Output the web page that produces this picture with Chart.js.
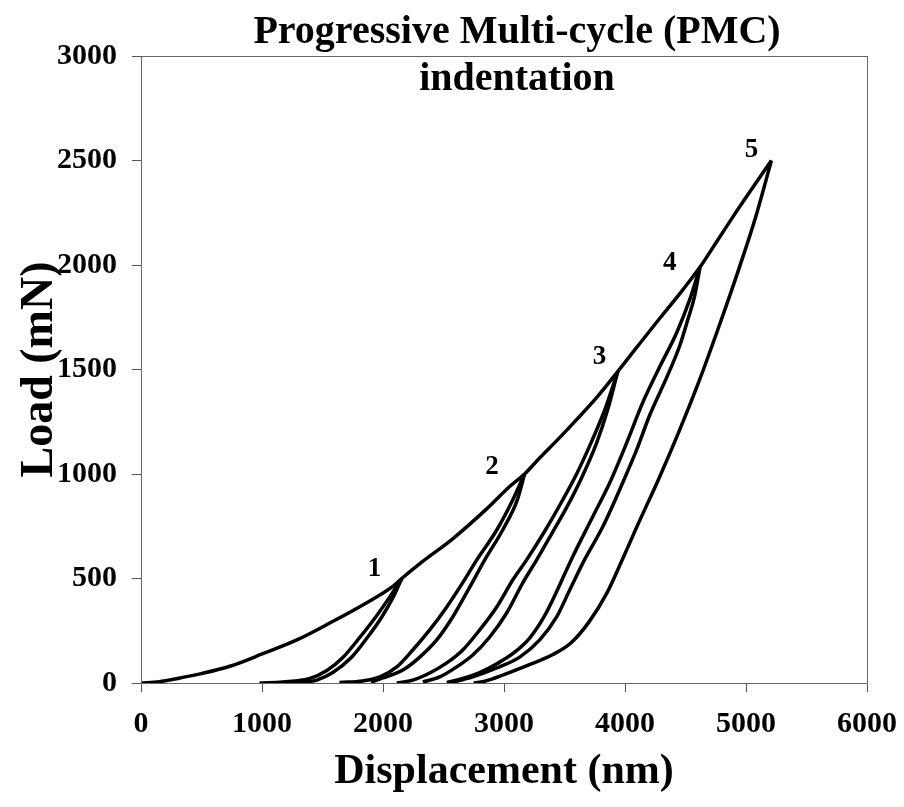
<!DOCTYPE html>
<html>
<head>
<meta charset="utf-8">
<title>Progressive Multi-cycle (PMC) indentation</title>
<script src="https://cdn.jsdelivr.net/npm/chart.js@4.4.0/dist/chart.umd.min.js"></script>
<style>
    html, body { margin: 0; padding: 0; background: #fff; }
    #wrap { width: 904px; height: 807px; }
</style>
</head>
<body>
<div id="wrap"><canvas id="pmcChart" width="904" height="807"></canvas></div>
<script>
// curve values: [displacement nm, load mN]
const loading = [[0,0],[150,6],[322,24],[500,45],[735,80],[1007,140],[1288,206],[1561,287],[1833,373],[2081,462],[2155,500],
    [2320,578],[2576,690],[2857,833],[3047,940],[3170,1000],[3300,1080],[3450,1168],[3600,1260],[3765,1365],[3940,1490],
    [4100,1608],[4286,1744],[4476,1880],[4620,1990],[4756,2110],[4889,2228],[5029,2348],[5210,2500]];

const reload1 = [[980,0],[1173,5],[1396,22],[1536,60],[1668,122],[1808,218],[1940,316],[2056,412],[2155,500]];
const unload1 = [[1250,0],[1330,3],[1453,14],[1585,50],[1742,124],[1874,220],[1990,316],[2085,412],[2155,500]];

const reload2 = [[1640,3],[1833,10],[1974,29],[2114,77],[2246,158],[2386,254],[2527,364],[2659,480],[2775,589],[2940,732],[3072,876],[3170,1000]];
const unload2 = [[1900,4],[1998,24],[2164,62],[2304,124],[2444,206],[2576,316],[2717,459],[2841,589],[2989,732],[3110,876],[3170,1000]];

const reload3 = [[2114,0],[2246,14],[2386,48],[2527,96],[2659,158],[2799,254],[2940,364],[3072,493],[3187,589],[3330,720],[3470,860],[3600,1000],[3720,1150],[3835,1310],[3940,1490]];
const unload3 = [[2329,5],[2469,29],[2609,77],[2742,134],[2882,220],[3022,335],[3154,478],[3270,589],[3400,720],[3518,840],[3640,980],[3765,1148],[3856,1306],[3940,1490]];

const reload4 = [[2527,3],[2659,22],[2799,50],[2940,92],[3072,140],[3212,215],[3330,316],[3445,450],[3555,589],[3732,794],[3873,957],[4013,1148],[4145,1340],[4286,1512],[4426,1675],[4534,1833],[4620,1990]];
const unload4 = [[2552,0],[2742,29],[2940,72],[3130,124],[3295,206],[3435,316],[3543,445],[3665,589],[3815,746],[3980,957],[4096,1115],[4203,1280],[4343,1460],[4450,1610],[4520,1740],[4575,1850],[4620,1990]];

const unload5 = [[2750,0],[2850,10],[3000,40],[3200,85],[3400,135],[3550,190],[3700,290],[3850,430],[3970,580],[4100,750],[4286,986],[4451,1210],[4616,1450],[4785,1720],[4946,1990],[5080,2230],[5210,2500]];

// cycle numbers next to each peak
const peakLabels = ['1', '2', '3', '4', '5'];
const peakLabelX = [1930, 2900, 3790, 4370, 5045];
const peakLabelY = [545, 1035, 1560, 2010, 2550];

const xTicks = [0, 1000, 2000, 3000, 4000, 5000, 6000];
const yTicks = [0, 500, 1000, 1500, 2000, 2500, 3000];

const serif = '"Liberation Serif", "Times New Roman", serif';

function curve(name, pts) {
    return {
        label: name,
        data: pts.map(p => ({ x: p[0], y: p[1] })),
        showLine: true,
        borderColor: '#000',
        borderWidth: 3.5,
        pointRadius: 0,
        cubicInterpolationMode: 'monotone',
        fill: false
    };
}

// titulo, marco y numeros de ciclo
const decor = {
    id: 'decor',
    afterDraw(chart) {
        const ctx = chart.ctx;
        const a = chart.chartArea;
        const sx = chart.scales.x, sy = chart.scales.y;
        ctx.save();
        ctx.strokeStyle = '#666';
        ctx.lineWidth = 1;
        ctx.strokeRect(a.left + 0.5, a.top + 0.5, a.right - a.left, a.bottom - a.top);

        ctx.fillStyle = '#000';
        ctx.textAlign = 'center';
        ctx.textBaseline = 'middle';
        ctx.font = 'bold 40px ' + serif;
        ctx.fillText('Progressive Multi-cycle (PMC)', 517, 33);
        ctx.fillText('indentation', 517, 80);

        ctx.font = 'bold 27px ' + serif;
        peakLabels.forEach((t, i) => {
            ctx.fillText(t, sx.getPixelForValue(peakLabelX[i]), sy.getPixelForValue(peakLabelY[i]));
        });
        ctx.restore();
    }
};

const plainNumber = v => String(v);

const ctx = document.getElementById('pmcChart').getContext('2d');
const pmcChart = new Chart(ctx, {
    type: 'scatter',
    data: {
        datasets: [
            curve('loading', loading),
            curve('reload 1', reload1), curve('unload 1', unload1),
            curve('reload 2', reload2), curve('unload 2', unload2),
            curve('reload 3', reload3), curve('unload 3', unload3),
            curve('reload 4', reload4), curve('unload 4', unload4),
            curve('unload 5', unload5)
        ]
    },
    options: {
        responsive: false,
        animation: false,
        devicePixelRatio: 1,
        layout: { padding: { top: 56, right: 37, left: 0, bottom: 0 } },
        plugins: {
            legend: { display: false },
            tooltip: { enabled: false }
        },
        scales: {
            x: {
                type: 'linear',
                min: 0,
                max: 6000,
                afterFit: s => { s.height = 124; s.paddingLeft = 0; s.paddingRight = 0; },
                afterBuildTicks: s => { s.ticks = xTicks.map(v => ({ value: v })); },
                grid: { drawOnChartArea: false, drawTicks: true, tickLength: 9, color: '#555' },
                border: { display: false },
                ticks: { color: '#000', padding: 14, callback: plainNumber, font: { family: serif, size: 30, weight: 'bold' } },
                title: {
                    display: true,
                    text: 'Displacement (nm)',
                    color: '#000',
                    padding: { top: 0, bottom: 10 },
                    font: { family: serif, size: 42, weight: 'bold' }
                }
            },
            y: {
                type: 'linear',
                min: 0,
                max: 3000,
                afterFit: s => { s.width = 141; s.paddingTop = 0; s.paddingBottom = 0; },
                afterBuildTicks: s => { s.ticks = yTicks.map(v => ({ value: v })); },
                grid: { drawOnChartArea: false, drawTicks: true, tickLength: 9, color: '#555' },
                border: { display: false },
                ticks: { color: '#000', padding: 15, callback: plainNumber, font: { family: serif, size: 30, weight: 'bold' } },
                title: {
                    display: true,
                    text: 'Load (mN)',
                    color: '#000',
                    padding: { top: 13, bottom: 0 },
                    font: { family: serif, size: 46, weight: 'bold' }
                }
            }
        }
    },
    plugins: [decor]
});
</script>
</body>
</html>
